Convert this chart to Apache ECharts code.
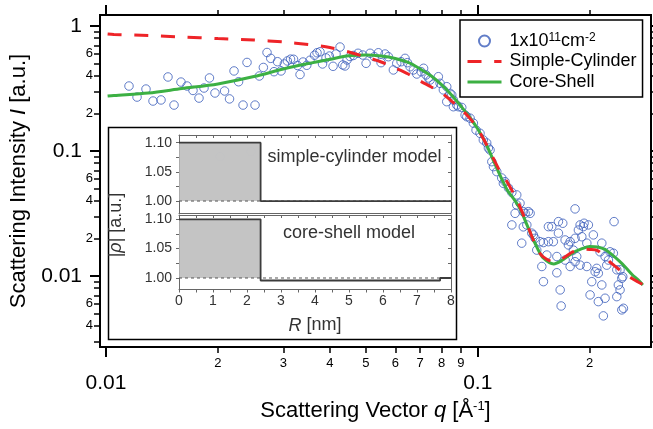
<!DOCTYPE html>
<html><head><meta charset="utf-8">
<script src="https://cdn.jsdelivr.net/npm/echarts@6/dist/echarts.min.js"></script>
<style>html,body{margin:0;padding:0;background:#fff}#c{width:653px;height:429px}</style>
</head><body><div id="c"></div>
<script>
// ---------- main data (q in 1/Å, I in a.u.) ----------
const qData = [0.01153,0.01212,0.01281,0.01338,0.01406,0.01468,0.01524,0.01591,0.01652,0.01714,0.01779,0.01835,0.01898,0.01964,0.02027,0.02084,0.02149,0.02210,0.02273,0.02337,0.02395,0.02455,0.02517,0.02585,0.02650,0.02711,0.02774,0.02831,0.02893,0.02957,0.03018,0.03075,0.03136,0.03195,0.03275,0.03326,0.03388,0.03467,0.03538,0.03638,0.03695,0.03764,0.03823,0.03907,0.03989,0.04081,0.04157,0.04261,0.04333,0.04395,0.04450,0.04533,0.04627,0.04764,0.04905,0.05007,0.05133,0.05271,0.05403,0.05494,0.05632,0.05748,0.05929,0.06055,0.06219,0.06374,0.06466,0.06576,0.06711,0.06854,0.07040,0.07150,0.07261,0.07366,0.07444,0.07598,0.07834,0.07917,0.08081,0.08252,0.08252,0.08423,0.08513,0.08597,0.08597,0.08780,0.08867,0.09057,0.09245,0.09343,0.09535,0.09732,0.09895,0.1014,0.1035,0.1057,0.1068,0.1079,0.1091,0.1102,0.1125,0.1160,0.1172,0.1184,0.1209,0.1235,0.1273,0.1235,0.1260,0.1273,0.1299,0.1326,0.1341,0.1368,0.1383,0.1326,0.1355,0.1397,0.1411,0.1426,0.1471,0.1502,0.1549,0.1597,0.1313,0.1441,0.1534,0.1549,0.1582,0.1648,0.1648,0.1693,0.1827,0.1718,0.1772,0.1753,0.1827,0.1865,0.1885,0.1932,0.1984,0.1905,0.1965,0.2046,0.1846,0.1808,0.1632,0.1718,0.1827,0.1772,0.1885,0.1965,0.1487,0.1632,0.2090,0.2069,0.2156,0.2133,0.2200,0.2246,0.2269,0.2316,0.2223,0.2110,0.2026,0.2156,0.1502,0.1666,0.2005,0.2200,0.2110,0.1676,0.2366,0.2414,0.2389,0.2440,0.2366,0.2414,0.2455,0.2440,0.2465,0.2177,0.2326,0.1923];
const iData = [0.331,0.270,0.313,0.251,0.256,0.391,0.233,0.356,0.331,0.305,0.265,0.319,0.384,0.291,0.0901,0.302,0.261,0.437,0.358,0.233,0.511,0.0988,0.233,0.398,0.466,0.614,0.551,0.431,0.518,0.437,0.497,0.525,0.543,0.542,0.483,0.409,0.515,0.485,0.532,0.584,0.611,0.622,0.497,0.555,0.575,0.476,0.597,0.679,0.488,0.479,0.535,0.570,0.581,0.605,0.586,0.503,0.605,0.568,0.611,0.509,0.597,0.568,0.445,0.503,0.518,0.551,0.509,0.472,0.445,0.413,0.431,0.459,0.406,0.384,0.370,0.343,0.393,0.348,0.308,0.327,0.248,0.289,0.281,0.256,0.226,0.233,0.226,0.223,0.194,0.188,0.183,0.167,0.147,0.1385,0.1225,0.1159,0.1057,0.1018,0.0821,0.0749,0.0683,0.0608,0.0551,0.0568,0.0506,0.0466,0.0445,0.0256,0.0317,0.0370,0.0382,0.0327,0.0317,0.0327,0.0317,0.0247,0.0256,0.0220,0.0213,0.0200,0.0188,0.0185,0.0188,0.0188,0.0183,0.0161,0.0147,0.0248,0.0248,0.0272,0.0220,0.0264,0.0344,0.0194,0.0188,0.0177,0.0200,0.0233,0.0256,0.0264,0.0256,0.0206,0.0183,0.0213,0.0143,0.0161,0.0143,0.0134,0.0130,0.0119,0.0122,0.0119,0.0119,0.0106,0.0115,0.0108,0.0183,0.0156,0.0143,0.0134,0.0156,0.0152,0.0122,0.0105,0.0090,0.00847,0.0090,0.00773,0.00705,0.00663,0.00623,0.00575,0.00683,0.00773,0.00847,0.00958,0.0112,0.0112,0.00987,0.00535,0.00551,0.00479,0.0272,0.0248];

const qFit = [0.0101,0.0105,0.013,0.016,0.02,0.025,0.03,0.035,0.04,0.045,0.05,0.055,0.06,0.065,0.07,0.075,0.08,0.085,0.09,0.095,0.1,0.105,0.11,0.115,0.12,0.125,0.13,0.135,0.14,0.145,0.15,0.16,0.17,0.18,0.19,0.2,0.21,0.22,0.23,0.24,0.25,0.26,0.27,0.278];
const iCylinder = [0.863,0.855,0.839,0.817,0.794,0.773,0.745,0.711,0.673,0.619,0.565,0.515,0.461,0.413,0.363,0.325,0.291,0.251,0.217,0.184,0.150,0.1159,0.0879,0.0679,0.0565,0.0453,0.0356,0.0270,0.0205,0.0161,0.0142,0.01294,0.01393,0.01556,0.01644,0.0163,0.01594,0.01406,0.01247,0.01127,0.01038,0.00955,0.00895,0.00855];
const iCoreShell = [0.275,0.278,0.291,0.316,0.344,0.394,0.453,0.501,0.5415,0.578,0.586,0.575,0.550,0.511,0.453,0.398,0.338,0.281,0.229,0.187,0.150,0.1159,0.0847,0.0631,0.0488,0.0413,0.0344,0.0265,0.0205,0.01644,0.01393,0.01247,0.01355,0.01528,0.01644,0.01722,0.01706,0.0163,0.01472,0.01318,0.0117,0.01028,0.00929,0.00847];

const seriesNames = ['1x10^11 cm^-2', 'Simple-Cylinder', 'Core-Shell'];

// ---------- axis ticks ----------
const qRange = [0.009635, 0.2924];
const iRange = [0.0027, 1.225];
const xMajorTicks = [0.01, 0.1];
const xMajorLabels = ['0.01', '0.1'];
const xMinorTicks = [0.02,0.03,0.04,0.05,0.06,0.07,0.08,0.09,0.2];
const xMinorLabels = ['2','3','4','5','6','7','8','9','2'];
const yMajorTicks = [0.01, 0.1, 1];
const yMajorLabels = ['0.01', '0.1', '1'];
const yMinorTicks = [0.003,0.004,0.005,0.006,0.007,0.008,0.009,0.02,0.03,0.04,0.05,0.06,0.07,0.08,0.09,0.2,0.3,0.4,0.5,0.6,0.7,0.8,0.9];
const yMinorLabelVals = [0.004,0.006,0.02,0.04,0.06,0.2,0.4,0.6];
const yMinorLabels = ['4','6','2','4','6','2','4','6'];

// ---------- inset data ----------
const rCylinder = [0, 2.4, 2.4, 8];
const rhoCylinder = [1.10, 1.10, 1.00, 1.00];
const rCoreShell = [0, 2.4, 2.4, 7.68, 7.68, 8];
const rhoCoreShell = [1.10, 1.10, 0.9957, 0.9957, 1.00, 1.00];
const rCore = [0, 2.4];
const rhoCore = [1.10, 1.10];
const rBase = [0, 8];
const rhoBase = [1.00, 1.00];
const rTicks = [0,1,2,3,4,5,6,7,8];
const rHalfTicks = [0,0.5,1,1.5,2,2.5,3,3.5,4,4.5,5,5.5,6,6.5,7,7.5,8];
const rhoLabelVals = [1.00, 1.05, 1.10];
const rhoTickVals = [1.00, 1.025, 1.05, 1.075, 1.10];

// ---------- helpers ----------
const L = Math.log10;
const FONT = 'Liberation Sans, Arial, Helvetica, sans-serif';
const zip = (a, b, f) => a.map((v, i) => f ? [f(v), f(b[i])] : [v, b[i]]);
const lookup = (vals, texts) => v => {
  for (let i = 0; i < vals.length; i++) if (Math.abs(L(vals[i]) - v) < 1e-6) return texts[i];
  return '';
};

function mainX(pos, ticks, len, width, label) {
  return {
    gridIndex: 0, type: 'value', position: pos,
    min: L(qRange[0]), max: L(qRange[1]),
    axisLine: { show: true, onZero: false, lineStyle: { color: '#000', width: 2 } },
    axisTick: { show: true, inside: false, length: len, customValues: ticks.map(L), lineStyle: { color: '#000', width: width } },
    axisLabel: label || { show: false },
    splitLine: { show: false }
  };
}
function mainY(pos, ticks, len, width, label) {
  return {
    gridIndex: 0, type: 'value', position: pos,
    min: L(iRange[0]), max: L(iRange[1]),
    axisLine: { show: true, onZero: false, lineStyle: { color: '#000', width: 2 } },
    axisTick: { show: true, inside: false, length: len, customValues: ticks.map(L), lineStyle: { color: '#000', width: width } },
    axisLabel: label || { show: false },
    splitLine: { show: false }
  };
}

const xAxes = [
  mainX('bottom', xMinorTicks, 6, 1.5, { show: true, customValues: xMinorTicks.map(L), formatter: lookup(xMinorTicks, xMinorLabels), fontSize: 13, margin: 10, color: '#000', fontFamily: FONT }),
  Object.assign(mainX('bottom', xMajorTicks, 10, 2, { show: true, customValues: xMajorTicks.map(L), formatter: lookup(xMajorTicks, xMajorLabels), fontSize: 21, margin: 26, color: '#000', fontFamily: FONT }), {
    name: '{n|Scattering Vector }{i|q}{n| [Å}{s|-1}{n|]}', nameLocation: 'middle', nameGap: 53,
    nameTextStyle: { fontSize: 22, fontFamily: FONT, color: '#000', rich: {
      n: { fontSize: 22, fontFamily: FONT, color: '#000' },
      i: { fontSize: 22, fontFamily: FONT, color: '#000', fontStyle: 'italic' },
      s: { fontSize: 13, fontFamily: FONT, color: '#000', verticalAlign: 'top' } } }
  }),
  mainX('top', xMinorTicks, 5, 1.5),
  mainX('top', xMajorTicks, 10, 2)
];
const yAxes = [
  mainY('left', yMinorTicks, 6, 1.5, { show: true, customValues: yMinorLabelVals.map(L), formatter: lookup(yMinorLabelVals, yMinorLabels), fontSize: 13, margin: 7, color: '#000', fontFamily: FONT }),
  Object.assign(mainY('left', yMajorTicks, 10, 2, { show: true, customValues: yMajorTicks.map(L), formatter: lookup(yMajorTicks, yMajorLabels), fontSize: 21, margin: 18, color: '#000', fontFamily: FONT }), {
    name: '{n|Scattering Intensity }{i|I}{n| [a.u.]}', nameLocation: 'middle', nameGap: 62,
    nameTextStyle: { fontSize: 22, fontFamily: FONT, color: '#000', rich: {
      n: { fontSize: 22, fontFamily: FONT, color: '#000' },
      i: { fontSize: 22, fontFamily: FONT, color: '#000', fontStyle: 'italic' } } }
  }),
  mainY('right', yMinorTicks, 4, 1.5),
  mainY('right', yMajorTicks, 8, 2)
];

// inset axes
const IC = '#333';
function insetX(grid, pos, opts) {
  return Object.assign({
    gridIndex: grid, type: 'value', position: pos, min: 0, max: 8, interval: 1, z: 12,
    axisLine: { show: true, onZero: false, lineStyle: { color: '#666', width: 1 } },
    axisTick: { show: true, inside: true, length: 3, customValues: rHalfTicks, lineStyle: { color: '#666', width: 1 } },
    axisLabel: { show: false },
    splitLine: { show: false }
  }, opts || {});
}
function insetY(grid, pos, min, max, opts) {
  return Object.assign({
    gridIndex: grid, type: 'value', position: pos, min: min, max: max, z: 12,
    axisLine: { show: true, onZero: false, lineStyle: { color: '#666', width: 1 } },
    axisTick: { show: true, inside: true, length: 3, customValues: rhoTickVals, lineStyle: { color: '#666', width: 1 } },
    axisLabel: { show: false },
    splitLine: { show: false }
  }, opts || {});
}
const insetYLabel = { show: true, customValues: rhoLabelVals, formatter: v => v.toFixed(2), fontSize: 14, margin: 7, color: IC, fontFamily: FONT };

xAxes.push(
  insetX(1, 'top'),
  insetX(1, 'bottom', { axisTick: { show: false } }),
  insetX(2, 'top'),
  insetX(2, 'bottom', {
    axisTick: { show: true, inside: false, length: 3, customValues: rHalfTicks, lineStyle: { color: '#666', width: 1 } },
    axisLabel: { show: true, customValues: rTicks, fontSize: 14, margin: 5, color: IC, fontFamily: FONT },
    name: '{i|R}{n| [nm]}', nameLocation: 'middle', nameGap: 27,
    nameTextStyle: { fontSize: 18, color: IC, fontFamily: FONT, rich: {
      n: { fontSize: 18, color: IC, fontFamily: FONT },
      i: { fontSize: 18, color: IC, fontFamily: FONT, fontStyle: 'italic' } } }
  })
);
yAxes.push(
  insetY(1, 'left', 0.9795, 1.1131, { axisTick: { show: true, inside: false, length: 3, customValues: rhoTickVals, lineStyle: { color: '#666', width: 1 } }, axisLabel: insetYLabel }),
  insetY(1, 'right', 0.9795, 1.1131),
  insetY(2, 'left', 0.9804, 1.1073, { axisTick: { show: true, inside: false, length: 3, customValues: rhoTickVals, lineStyle: { color: '#666', width: 1 } }, axisLabel: insetYLabel }),
  insetY(2, 'right', 0.9804, 1.1073)
);

const stepStyle = { color: '#3c3c3c', width: 1.8 };
const baseStyle = { color: '#555', width: 1, type: [3, 3] };
const fillColor = 'rgba(186,186,186,0.85)';

const option = {
  animation: false,
  backgroundColor: '#fff',
  textStyle: { fontFamily: FONT },
  grid: [
    { left: 100, top: 15, right: 2, bottom: 82, show: false },
    { left: 179, top: 135, width: 272, height: 78, show: false, z: 12 },
    { left: 179, top: 215, width: 272, height: 74.5, show: false, z: 12 }
  ],
  xAxis: xAxes,
  yAxis: yAxes,
  legend: {
    orient: 'vertical', left: 460, top: 20,
    data: [
      { name: seriesNames[0] },
      { name: seriesNames[1], itemStyle: { opacity: 0 } },
      { name: seriesNames[2], itemStyle: { opacity: 0 } }
    ],
    padding: [12, 6, 6, 6],
    itemWidth: 34, itemHeight: 11, itemGap: 2.5,
    lineStyle: { width: 3 },
    backgroundColor: '#fff', borderColor: '#000', borderWidth: 1.5, borderRadius: 0,
    textStyle: { fontSize: 18, color: '#000', fontFamily: FONT, padding: [0, 0, 0, 3],
      rich: { sup: { fontSize: 12, fontFamily: FONT, color: '#000', verticalAlign: 'top' } } },
    formatter: n => n === seriesNames[0] ? '1x10{sup|11}cm{sup|-2}' : n
  },
  graphic: [
    { type: 'rect', z: 10, shape: { x: 108.5, y: 127.5, width: 348, height: 212 },
      style: { fill: 'rgba(255,255,255,0.9)', stroke: '#000', lineWidth: 1.5 } },
    { type: 'text', z: 15, x: 354.5, y: 157,
      style: { text: 'simple-cylinder model', x: 0, y: 0, align: 'center', verticalAlign: 'middle', fontSize: 18, fill: IC, fontFamily: FONT } },
    { type: 'text', z: 15, x: 349, y: 233,
      style: { text: 'core-shell model', x: 0, y: 0, align: 'center', verticalAlign: 'middle', fontSize: 18, fill: IC, fontFamily: FONT } },
    { type: 'text', z: 15, x: 116, y: 225, rotation: Math.PI / 2,
      style: { text: '{n||}{i|ρ}{n|| [a.u.]}', x: 0, y: 0, align: 'center', verticalAlign: 'middle', fontSize: 18, fill: IC, fontFamily: FONT,
        rich: { n: { fontSize: 18, fill: IC, fontFamily: FONT }, i: { fontSize: 18, fill: IC, fontFamily: FONT, fontStyle: 'italic' } } } }
  ],
  series: [
    { name: seriesNames[0], type: 'scatter', xAxisIndex: 0, yAxisIndex: 0, z: 2,
      data: zip(qData, iData, L), symbol: 'circle', symbolSize: 8.5,
      itemStyle: { color: 'rgba(255,255,255,0)', borderColor: '#3a5cba', borderWidth: 1 } },
    { name: seriesNames[2], type: 'line', xAxisIndex: 0, yAxisIndex: 0, z: 3,
      data: zip(qFit, iCoreShell, L), symbol: 'none', smooth: 0.3,
      lineStyle: { color: '#3cb043', width: 3 }, itemStyle: { color: '#3cb043' } },
    { name: seriesNames[1], type: 'line', xAxisIndex: 0, yAxisIndex: 0, z: 4,
      data: zip(qFit, iCylinder, L), symbol: 'none', smooth: 0.3,
      lineStyle: { color: '#ee2428', width: 3, type: [14, 12.7] }, itemStyle: { color: '#ee2428' } },
    // inset top: simple cylinder
    { type: 'line', xAxisIndex: 4, yAxisIndex: 4, z: 13, data: zip(rCore, rhoCore), symbol: 'none',
      lineStyle: { width: 0 }, areaStyle: { color: fillColor, opacity: 1, origin: 1.0 } },
    { type: 'line', xAxisIndex: 4, yAxisIndex: 4, z: 14, data: zip(rBase, rhoBase), symbol: 'none', lineStyle: baseStyle },
    { type: 'line', xAxisIndex: 4, yAxisIndex: 4, z: 15, data: zip(rCylinder, rhoCylinder), symbol: 'none', lineStyle: stepStyle },
    // inset bottom: core-shell
    { type: 'line', xAxisIndex: 6, yAxisIndex: 6, z: 13, data: zip(rCore, rhoCore), symbol: 'none',
      lineStyle: { width: 0 }, areaStyle: { color: fillColor, opacity: 1, origin: 1.0 } },
    { type: 'line', xAxisIndex: 6, yAxisIndex: 6, z: 14, data: zip(rBase, rhoBase), symbol: 'none', lineStyle: baseStyle },
    { type: 'line', xAxisIndex: 6, yAxisIndex: 6, z: 15, data: zip(rCoreShell, rhoCoreShell), symbol: 'none', lineStyle: stepStyle }
  ]
};

const chart = echarts.init(document.getElementById('c'), null, { renderer: 'canvas' });
chart.setOption(option);
</script>
</body></html>
